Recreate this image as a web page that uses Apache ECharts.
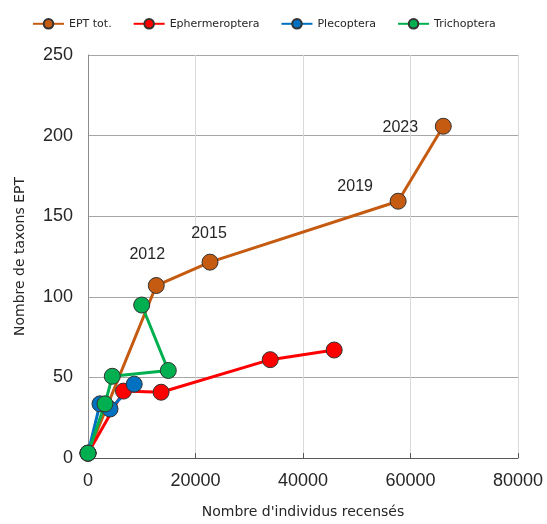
<!DOCTYPE html>
<html>
<head>
<meta charset="utf-8">
<script src="https://cdn.jsdelivr.net/npm/echarts@6/dist/echarts.min.js"></script>
<style>html,body{margin:0;padding:0;background:#fff}#c{width:547px;height:524px}</style>
</head>
<body>
<div id="c"></div>
<script>
// ---- data ----
const seriesNames = ['EPT tot.', 'Ephermeroptera', 'Plecoptera', 'Trichoptera'];
const eptX = [0, 12700, 22700, 57700, 66100];
const eptY = [3, 107, 121.5, 159.3, 205.8];
const eptYears = ['', '2012', '2015', '2019', '2023'];
const ephX = [0, 6600, 13600, 33900, 45800];
const ephY = [3, 41.5, 40.8, 61, 67];
const pleX = [0, 2230, 4100, 8600];
const pleY = [3, 33.6, 30.4, 45.8];
const triX = [0, 3160, 4520, 14940, 9990];
const triY = [3, 33.6, 50.7, 54.3, 94.9];
const xTicks = [0, 20000, 40000, 60000, 80000];
const yTicks = [0, 50, 100, 150, 200, 250];

// ---- styling ----
const colors = ['#C55A11', '#FF0000', '#0070C0', '#00B050'];
const yearLabelOffsets = [[0,0], [-9,-31], [-1,-29], [-43,-15], [-43,1]];

function pairs(xs, ys, labels) {
  return xs.map((x, i) => {
    const d = { value: [x, ys[i]] };
    if (labels && labels[i]) {
      d.label = { show: true, formatter: labels[i], position: 'inside', offset: yearLabelOffsets[i] };
    }
    return d;
  });
}

function mkSeries(name, xs, ys, color, labels) {
  return {
    name: name, type: 'line', data: pairs(xs, ys, labels),
    symbol: 'circle', symbolSize: 16,
    lineStyle: { color: color, width: 3 },
    itemStyle: { color: color, borderColor: '#333', borderWidth: 1 },
    label: { show: false, color: '#262626', fontFamily: 'Liberation Sans', fontSize: 16 },
    emphasis: { disabled: true },
    animation: false
  };
}

const chart = echarts.init(document.getElementById('c'), null, { renderer: 'canvas' });
chart.setOption({
  backgroundColor: '#fff',
  color: colors,
  animation: false,
  legend: {
    top: 13, left: 27, itemGap: 21, itemWidth: 31, itemHeight: 12,
    textStyle: { fontFamily: 'DejaVu Sans', fontSize: 11, color: '#262626' },
    data: seriesNames
  },
  grid: { left: 88, right: 29, top: 55, bottom: 58, containLabel: false },
  xAxis: {
    type: 'value', min: xTicks[0], max: xTicks[xTicks.length - 1], interval: xTicks[1] - xTicks[0],
    name: "Nombre d'individus recensés", nameLocation: 'middle', nameGap: 47,
    nameTextStyle: { fontFamily: 'DejaVu Sans', fontSize: 14, color: '#262626' },
    axisLine: { show: true, lineStyle: { color: '#595959', width: 1 } },
    axisTick: { show: true, inside: true, length: 5, lineStyle: { color: '#595959' } },
    axisLabel: { fontFamily: 'Liberation Sans', fontSize: 18, color: '#262626', margin: 14,
      formatter: v => String(v) },
    splitLine: { show: true, lineStyle: { color: '#D9D9D9', width: 1 } }
  },
  yAxis: {
    type: 'value', min: yTicks[0], max: yTicks[yTicks.length - 1], interval: yTicks[1] - yTicks[0],
    name: 'Nombre de taxons EPT', nameLocation: 'middle', nameGap: 61,
    nameTextStyle: { fontFamily: 'DejaVu Sans', fontSize: 14, color: '#262626' },
    axisLine: { show: true, lineStyle: { color: '#8C8C8C', width: 1 } },
    axisTick: { show: false },
    axisLabel: { fontFamily: 'Liberation Sans', fontSize: 18, color: '#262626', margin: 15,
      formatter: v => String(v) },
    splitLine: { show: true, lineStyle: { color: '#A6A6A6', width: 1 } }
  },
  series: [
    mkSeries(seriesNames[0], eptX, eptY, colors[0], eptYears),
    mkSeries(seriesNames[1], ephX, ephY, colors[1]),
    mkSeries(seriesNames[2], pleX, pleY, colors[2]),
    mkSeries(seriesNames[3], triX, triY, colors[3])
  ]
});
</script>
</body>
</html>
